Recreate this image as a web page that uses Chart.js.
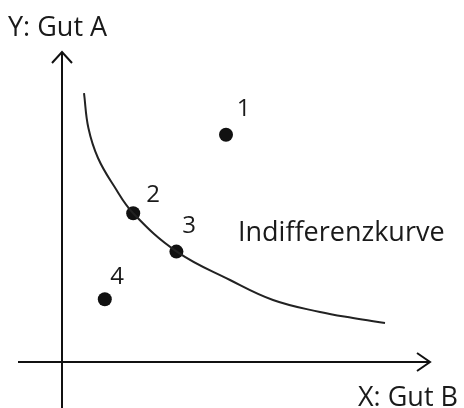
<!DOCTYPE html>
<html lang="de">
<head>
<meta charset="UTF-8">
<title>Indifferenzkurve</title>
<script src="https://cdn.jsdelivr.net/npm/chart.js@4/dist/chart.umd.min.js"></script>
<style>
    html, body { margin: 0; padding: 0; background: #fff; }
    .wrap { width: 464px; height: 408px; position: relative; }
</style>
</head>
<body>
<div class="wrap"><canvas id="chart"></canvas></div>
<script>
// Güterbündel (x = Gut B, y = Gut A)
const bundleLabels = ['1', '2', '3', '4'];
const bundleX = [4.1, 1.78, 2.86, 1.07];
const bundleY = [5.68, 3.72, 2.76, 1.57];
// Position der Ziffern (Mitte, Grundlinie)
const numLabelX = [4.54, 2.28, 3.175, 1.38];
const numLabelY = [6.15, 3.99, 3.225, 1.95];

// Indifferenzkurve
const curveX = [0.55, 0.66, 0.9, 1.3, 1.78, 2.87, 4.2, 5.275, 6.45, 7.275, 8.075];
const curveY = [6.72, 5.85, 5.1, 4.4, 3.72, 2.76, 2.05, 1.55, 1.25, 1.1, 0.975];

// Achsen
const xAxisX = [-1.1, 9.2];
const yAxisY = [-1.15, 7.75];
const xArrowX = [8.875, 9.2, 8.875];
const xArrowY = [0.225, 0, -0.225];
const yArrowX = [-0.25, 0, 0.25];
const yArrowY = [7.475, 7.75, 7.475];

// Beschriftungen (links, Grundlinie)
const textItems = ['Y: Gut A', 'X: Gut B', 'Indifferenzkurve'];
const textX = [-1.35, 7.4, 4.4];
const textY = [8.15, -1.1, 3.03];

const ink = '#111';

function pts(xs, ys) {
    return xs.map((x, i) => ({ x: x, y: ys[i] }));
}

const labelPlugin = {
    id: 'labels',
    afterDatasetsDraw(chart) {
        const ctx = chart.ctx;
        const sx = chart.scales.x, sy = chart.scales.y;
        ctx.save();
        ctx.fillStyle = '#1a1a1a';
        ctx.textBaseline = 'alphabetic';
        ctx.font = '24px "Open Sans", sans-serif';
        ctx.textAlign = 'center';
        bundleLabels.forEach((t, i) => {
            ctx.fillText(t, sx.getPixelForValue(numLabelX[i]), sy.getPixelForValue(numLabelY[i]));
        });
        ctx.font = '27px "Open Sans", sans-serif';
        ctx.textAlign = 'left';
        textItems.forEach((t, i) => {
            ctx.fillText(t, sx.getPixelForValue(textX[i]), sy.getPixelForValue(textY[i]));
        });
        ctx.restore();
    }
};

const lineStyle = { showLine: true, borderColor: ink, borderWidth: 2, pointRadius: 0, fill: false };

new Chart(document.getElementById('chart'), {
    type: 'scatter',
    data: {
        datasets: [
            Object.assign({ data: pts(xAxisX, [0, 0]) }, lineStyle),
            Object.assign({ data: pts([0, 0], yAxisY) }, lineStyle),
            Object.assign({ data: pts(xArrowX, xArrowY) }, lineStyle),
            Object.assign({ data: pts(yArrowX, yArrowY) }, lineStyle),
            Object.assign({ data: pts(curveX, curveY), tension: 0.4 }, lineStyle, { borderColor: '#222' }),
            {
                data: pts(bundleX, bundleY),
                pointRadius: 7,
                pointBorderWidth: 0,
                pointBackgroundColor: ink,
                pointBorderColor: ink,
                showLine: false
            }
        ]
    },
    options: {
        responsive: true,
        maintainAspectRatio: false,
        animation: false,
        layout: { padding: 0, autoPadding: false },
        plugins: { legend: { display: false }, tooltip: { enabled: false } },
        scales: {
            x: { type: 'linear', min: -1.55, max: 10.05, display: false },
            y: { type: 'linear', min: -1.15, max: 9.05, display: false }
        }
    },
    plugins: [labelPlugin]
});
</script>
</body>
</html>
